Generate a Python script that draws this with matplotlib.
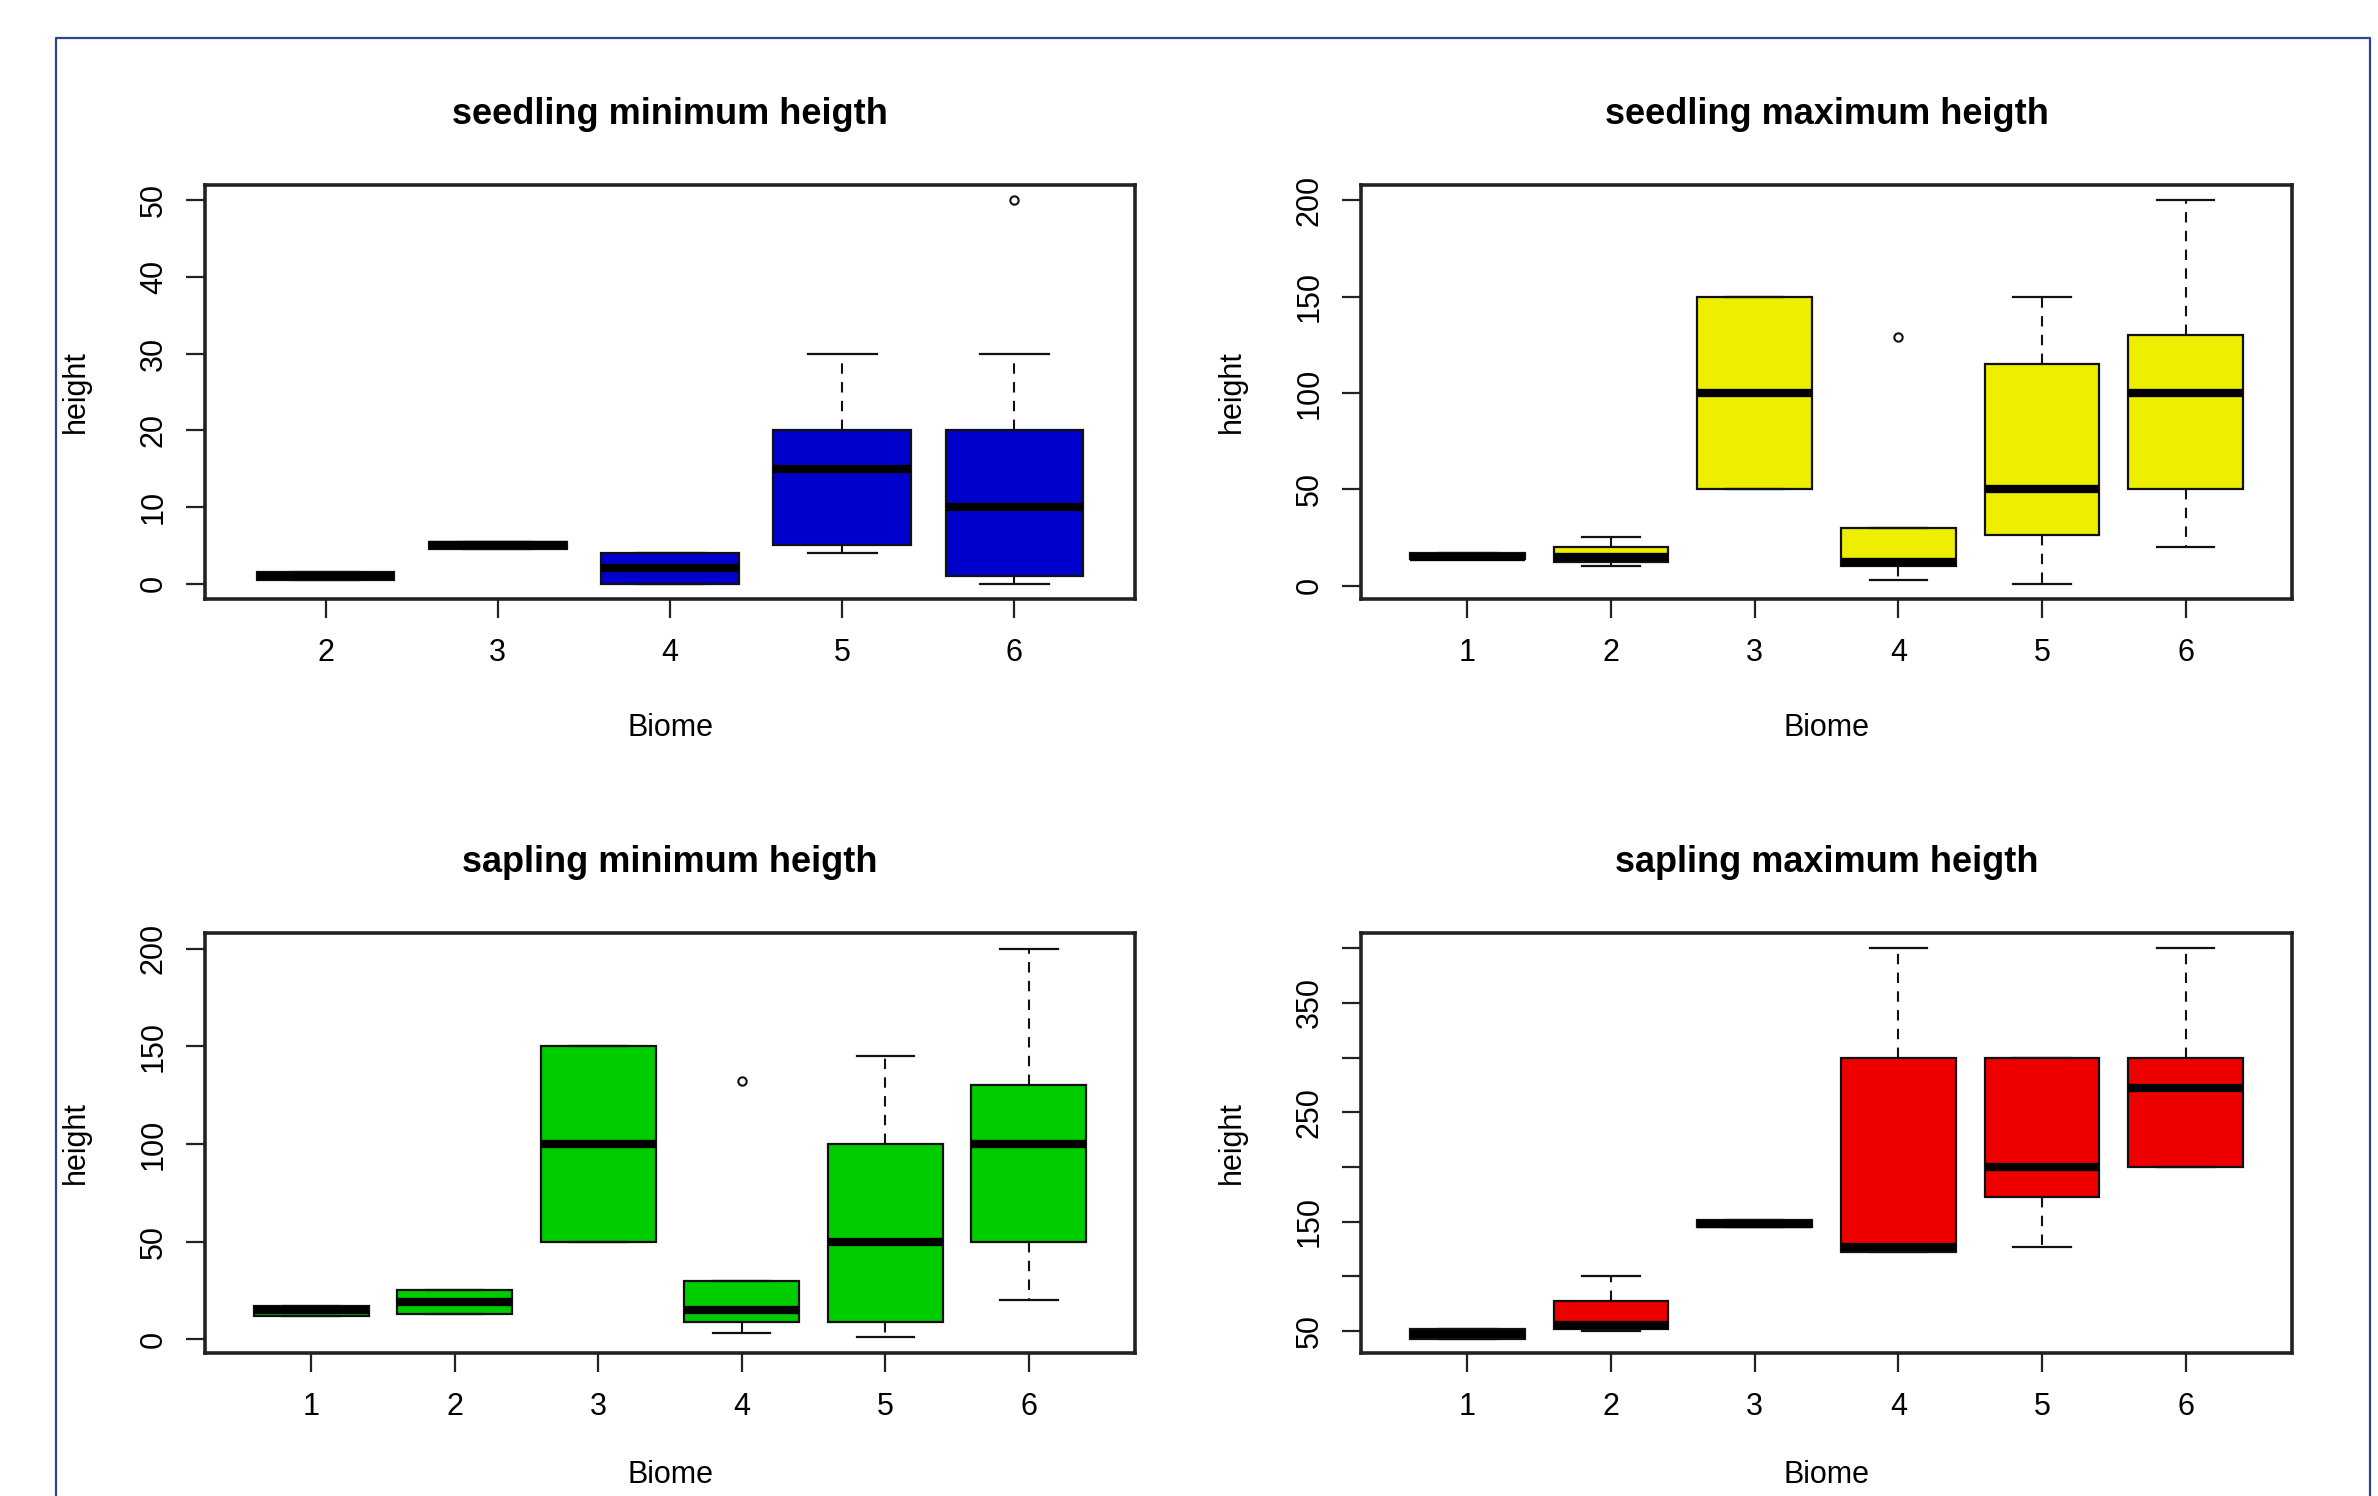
import matplotlib
matplotlib.use("Agg")
import matplotlib.pyplot as plt
from matplotlib.lines import Line2D
import numpy as np

plt.rcParams['font.family'] = ['Liberation Sans', 'DejaVu Sans']

W, H = 2378, 1496

# seedling minimum heigth, biomes 2-6
seed_min_biome = ['2', '3', '4', '5', '6']
seed_min_lo = [0.5, 4.5, 0, 4, 0]
seed_min_q1 = [0.5, 4.5, 0, 5, 1]
seed_min_med = [1, 5, 2, 15, 10]
seed_min_q3 = [1.5, 5.5, 4, 20, 20]
seed_min_hi = [1.5, 5.5, 4, 30, 30]
seed_min_out = [[], [], [], [], [50]]

# seedling maximum heigth, biomes 1-6
seed_max_biome = ['1', '2', '3', '4', '5', '6']
seed_max_lo = [14, 10, 50, 3, 1, 20]
seed_max_q1 = [14, 12, 50, 10, 26, 50]
seed_max_med = [15, 15, 100, 12, 50, 100]
seed_max_q3 = [17, 20, 150, 30, 115, 130]
seed_max_hi = [17, 25, 150, 30, 150, 200]
seed_max_out = [[], [], [], [129], [], []]

# sapling minimum heigth, biomes 1-6
sap_min_biome = ['1', '2', '3', '4', '5', '6']
sap_min_lo = [12, 13, 50, 3, 1, 20]
sap_min_q1 = [12, 13, 50, 9, 9, 50]
sap_min_med = [15, 19, 100, 15, 50, 100]
sap_min_q3 = [17, 25, 150, 30, 100, 130]
sap_min_hi = [17, 25, 150, 30, 145, 200]
sap_min_out = [[], [], [], [132], [], []]

# sapling maximum heigth, biomes 1-6
sap_max_biome = ['1', '2', '3', '4', '5', '6']
sap_max_lo = [43, 50, 145, 122, 127, 200]
sap_max_q1 = [43, 52, 145, 122, 173, 200]
sap_max_med = [47, 56, 148, 127, 200, 272]
sap_max_q3 = [52, 78, 152, 300, 300, 300]
sap_max_hi = [52, 100, 152, 400, 300, 400]
sap_max_out = [[], [], [], [], [], []]


def px_rect(l, t, r, b):
    return [l / W, 1 - b / H, (r - l) / W, (b - t) / H]


def draw_panel(ax, title, labels, lo, q1, med, q3, hi, out, color,
               yticks, ylim, ylabels, h_px, xlab_off):
    stats = []
    for i in range(len(labels)):
        stats.append(dict(whislo=lo[i], q1=q1[i], med=med[i], q3=q3[i],
                          whishi=hi[i], fliers=np.array(out[i])))
    pos = np.arange(1, len(labels) + 1)
    bp = ax.bxp(stats, positions=pos, widths=0.8, capwidths=0.4,
                patch_artist=True, manage_ticks=False,
                boxprops=dict(edgecolor='#111111', linewidth=1.6),
                medianprops=dict(color='black', linewidth=6, solid_capstyle='butt'),
                whiskerprops=dict(color='#111111', linewidth=1.5, linestyle=(0, (5, 4))),
                capprops=dict(color='#111111', linewidth=1.6),
                flierprops=dict(marker='o', markerfacecolor='none',
                                markeredgecolor='#111111', markersize=6,
                                markeredgewidth=1.5))
    for b in bp['boxes']:
        b.set_facecolor(color)

    # R style limits: 0.5..n+0.5 then 4% extension
    n = len(labels)
    ext = 0.04 * n
    ax.set_xlim(0.5 - ext, n + 0.5 + ext)
    ax.set_ylim(*ylim)
    ax.set_xticks(pos)
    ax.set_xticklabels(labels)
    ax.set_yticks(yticks)
    ax.set_yticklabels(ylabels)
    ax.tick_params(axis='x', length=14, width=1.6, pad=14, labelsize=22, color='#222222')
    ax.tick_params(axis='y', length=14, width=1.6, pad=12, labelsize=22, color='#222222')
    for lab in ax.get_yticklabels():
        lab.set_rotation(90)
        lab.set_va('center')
    for s in ax.spines.values():
        s.set_linewidth(2.6)
        s.set_color('#222222')

    ax.set_xlabel('Biome', fontsize=22)
    ax.xaxis.set_label_coords(0.5, -xlab_off / h_px)
    ax.set_ylabel('height', fontsize=22)
    ax.yaxis.set_label_coords(-114 / 930, 0.5)
    ax.text(0.5, 1 + 70 / h_px, title, transform=ax.transAxes, ha='center',
            va='center', fontsize=26, fontweight='bold')


fig = plt.figure(figsize=(W / 100, H / 100), dpi=100)

ax1 = fig.add_axes(px_rect(205, 185, 1135, 599))
ax2 = fig.add_axes(px_rect(1361, 185, 2292, 599))
ax3 = fig.add_axes(px_rect(205, 933, 1135, 1353))
ax4 = fig.add_axes(px_rect(1361, 933, 2292, 1353))

t1 = [0, 10, 20, 30, 40, 50]
draw_panel(ax1, 'seedling minimum heigth', seed_min_biome, seed_min_lo, seed_min_q1,
           seed_min_med, seed_min_q3, seed_min_hi, seed_min_out, '#0000CD',
           t1, (-2, 52), [str(t) for t in t1], 414, 114)

t2 = [0, 50, 100, 150, 200]
draw_panel(ax2, 'seedling maximum heigth', seed_max_biome, seed_max_lo, seed_max_q1,
           seed_max_med, seed_max_q3, seed_max_hi, seed_max_out, '#EEEE00',
           t2, (-7, 208), [str(t) for t in t2], 414, 114)

draw_panel(ax3, 'sapling minimum heigth', sap_min_biome, sap_min_lo, sap_min_q1,
           sap_min_med, sap_min_q3, sap_min_hi, sap_min_out, '#00CD00',
           t2, (-7, 208), [str(t) for t in t2], 420, 107)

t4 = [50, 100, 150, 200, 250, 300, 350, 400]
draw_panel(ax4, 'sapling maximum heigth', sap_max_biome, sap_max_lo, sap_max_q1,
           sap_max_med, sap_max_q3, sap_max_hi, sap_max_out, '#EE0000',
           t4, (30, 414), [str(t) if t % 100 == 50 else '' for t in t4], 420, 107)

# blue page frame around the figure
frame_col = '#2a4690'
x0, x1, y0 = 56 / W, 2370 / W, 1 - 38 / H
fig.add_artist(Line2D([x0, x0, x1, x1], [-0.01, y0, y0, -0.01],
                      transform=fig.transFigure, color=frame_col, linewidth=1.6))

fig.savefig('out.png', dpi=100)
